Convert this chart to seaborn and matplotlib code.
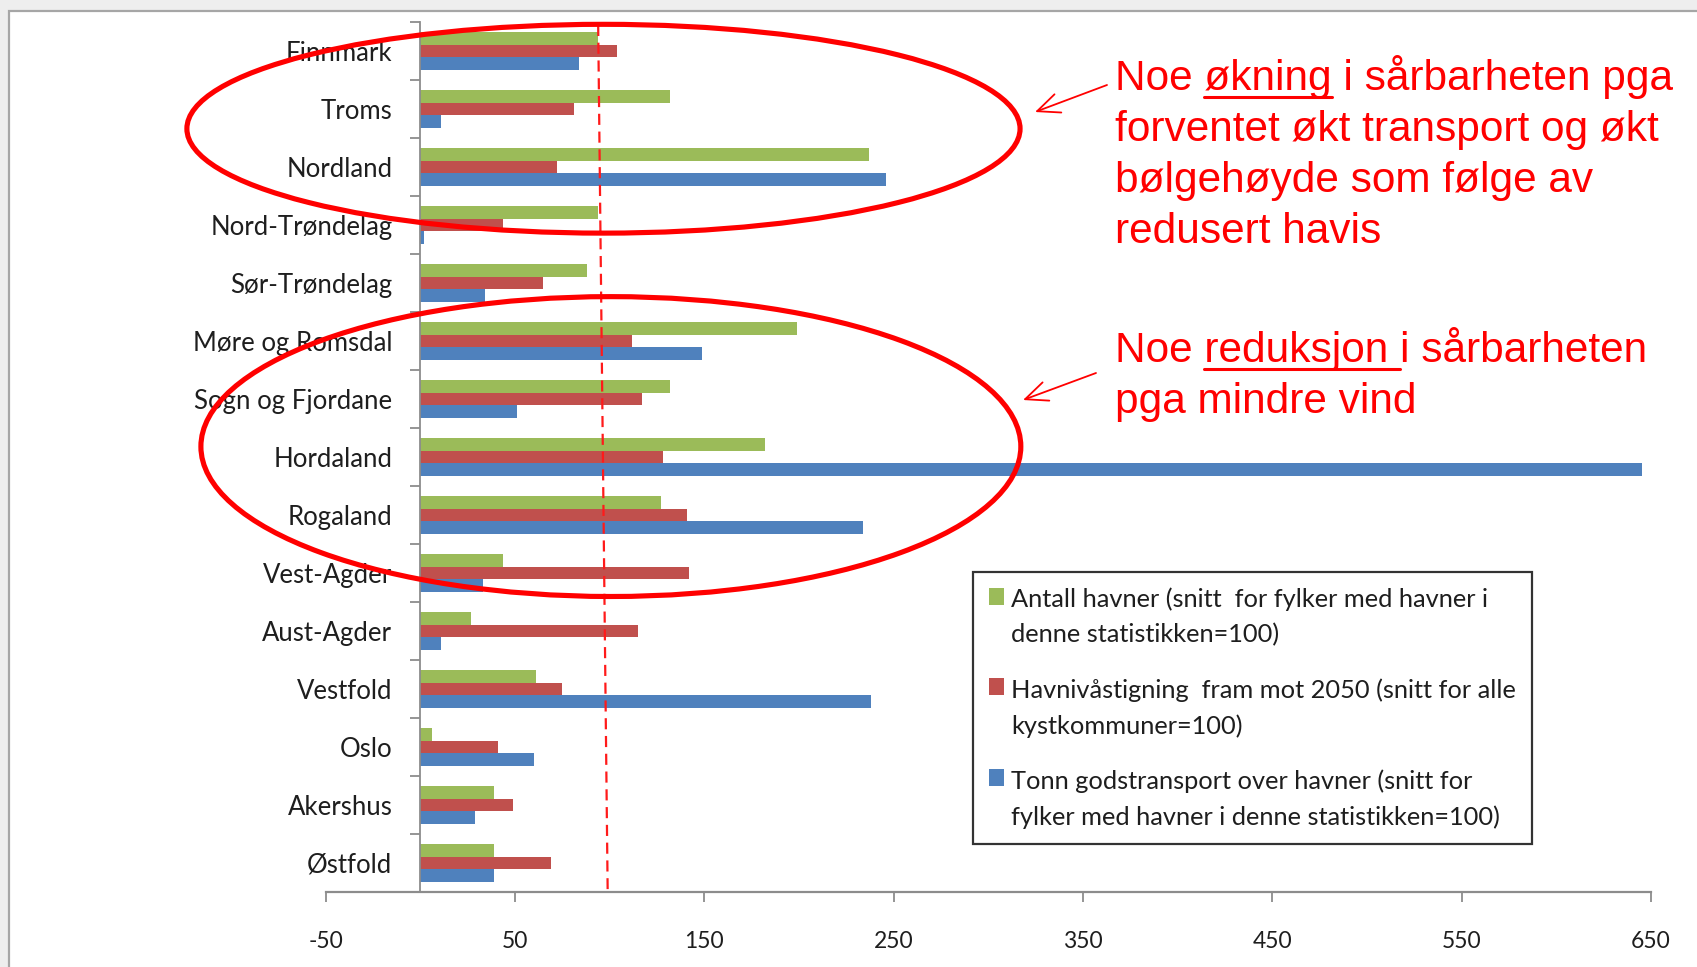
import matplotlib
matplotlib.use("Agg")
import matplotlib.pyplot as plt
import seaborn as sns
import pandas as pd
from matplotlib.patches import Ellipse, Rectangle, FancyArrowPatch
from matplotlib.lines import Line2D
from matplotlib.ticker import FixedLocator

# ---- data -------------------------------------------------------------
fylker = ["Finnmark", "Troms", "Nordland", "Nord-Trøndelag", "Sør-Trøndelag",
          "Møre og Romsdal", "Sogn og Fjordane", "Hordaland", "Rogaland",
          "Vest-Agder", "Aust-Agder", "Vestfold", "Oslo", "Akershus", "Østfold"]

antall_havner = [94, 132, 237, 94, 88, 199, 132, 182, 127, 44, 27, 61, 6, 39, 39]
havnivastigning = [104, 81, 72, 44, 65, 112, 117, 128, 141, 142, 115, 75, 41, 49, 69]
tonn_gods = [84, 11, 246, 2, 34, 149, 51, 645, 234, 33, 11, 238, 60, 29, 39]

serie_navn = [
    "Antall havner (snitt  for fylker med havner i\ndenne statistikken=100)",
    "Havnivåstigning  fram mot 2050 (snitt for alle\nkystkommuner=100)",
    "Tonn godstransport over havner (snitt for\nfylker med havner i denne statistikken=100)",
]
serie_farger = ["#9BBB59", "#C0504D", "#4F81BD"]

x_ticks = [-50, 50, 150, 250, 350, 450, 550, 650]
snitt_linje = [94, 99]          # reference line at index 100 (hand drawn, slightly skewed)

note1_lines = ["Noe økning i sårbarheten pga", "forventet økt transport og økt",
               "bølgehøyde som følge av", "redusert havis"]
note1_under = "økning"
note2_lines = ["Noe reduksjon i sårbarheten", "pga mindre vind"]
note2_under = "reduksjon "

# ---- long-form table ---------------------------------------------------
df = pd.DataFrame({
    "fylke": fylker * 3,
    "verdi": antall_havner + havnivastigning + tonn_gods,
    "serie": [serie_navn[0]] * len(fylker) + [serie_navn[1]] * len(fylker)
             + [serie_navn[2]] * len(fylker),
})

# ---- figure --------------------------------------------------------------
W, H = 1697, 967
sns.set_theme(style="white")
plt.rcParams["font.family"] = ["Lato", "DejaVu Sans"]

fig = plt.figure(figsize=(W / 100, H / 100), dpi=100, facecolor="#EEEEEE")


def px(x, y):
    return x / W, 1 - y / H


# white chart panel with grey frame
panel = Rectangle(px(9, 1100), 2.0, (1100 - 11) / H, transform=fig.transFigure,
                  facecolor="white", edgecolor="#A6A6A6", lw=1.6, zorder=-10)
fig.patches.append(panel)

ax = fig.add_axes([325.5 / W, 1 - 892 / H, (1651 - 325.5) / W, (892 - 22) / H])
ax.set_facecolor("none")

sns.barplot(data=df, y="fylke", x="verdi", hue="serie", order=fylker,
            hue_order=serie_navn, palette=serie_farger, orient="h",
            width=0.65, saturation=1, ax=ax, errorbar=None, linewidth=0)

ax.set_xlim(-50, 650)
ax.set_ylim(len(fylker) - 0.5, -0.5)
ax.set_xticks(x_ticks)
ax.set_xticklabels([str(v) for v in x_ticks])
ax.set_xlabel("")
ax.set_ylabel("")

axis_grey = "#8C8C8C"
text_col = "#1E1E1E"
for s in ("top", "right"):
    ax.spines[s].set_visible(False)
ax.spines["left"].set_position(("data", 0))
ax.spines["left"].set_color(axis_grey)
ax.spines["left"].set_linewidth(1.3)
ax.spines["bottom"].set_color(axis_grey)
ax.spines["bottom"].set_linewidth(1.6)

ax.tick_params(axis="x", direction="out", length=7.2, width=1.3, color=axis_grey,
               pad=21, labelsize=16.5, labelcolor=text_col, bottom=True)
ax.tick_params(axis="y", which="major", length=0, pad=20, labelsize=18.5,
               labelcolor=text_col, left=True)
ax.yaxis.set_minor_locator(FixedLocator([i - 0.5 for i in range(len(fylker) + 1)]))
ax.tick_params(axis="y", which="minor", direction="out", length=7.2, width=1.3,
               color=axis_grey, left=True)

# dashed reference line
ax.plot(snitt_linje, [-0.45, len(fylker) - 0.55], color="#FF1A1A", lw=1.6,
        ls=(0, (5, 3)), zorder=5)

# ellipses around the two groups of counties
for (cx, cy, ew, eh) in [(96.8, 1.34, 440, 3.6), (100.7, 6.82, 433, 5.17)]:
    ax.add_patch(Ellipse((cx, cy), ew, eh, fill=False, edgecolor="#FF0000",
                         lw=3.7, clip_on=False, zorder=6))

# legend
handles, labels = ax.get_legend_handles_labels()
ax.get_legend().remove()
leg = ax.legend(handles, labels, loc="upper left", bbox_to_anchor=(0.4885, 0.368),
                borderaxespad=0, frameon=True, fancybox=False, fontsize=18.3,
                handlelength=0.6, handleheight=0.66, handletextpad=0.28,
                labelspacing=1.25, borderpad=0.62)
leg.get_frame().set_edgecolor("black")
leg.get_frame().set_linewidth(1.6)
for t in leg.get_texts():
    t.set_linespacing(1.62)
    t.set_color(text_col)
# keep each colour key level with the first line of its label
for column in leg._legend_handle_box.get_children():
    for item in column.get_children():
        item.align = "top"

# ---- red notes -----------------------------------------------------------
note_kw = dict(family=["Liberation Sans", "DejaVu Sans"], size=30.5, color="#FF0000")

fig.canvas.draw()
renderer = fig.canvas.get_renderer()


def text_width(s):
    t = fig.text(0, 0, s, **note_kw)
    w = t.get_window_extent(renderer).width
    t.remove()
    return w


def write_note(lines, baselines, x0, word):
    for line, yb in zip(lines, baselines):
        fig.text(*px(x0, yb), line, va="baseline", ha="left", **note_kw)
    first = lines[0]
    i = first.index(word)
    core = word.rstrip()
    xs = x0 + text_width(first[:i] + core) - text_width(core)
    xe = x0 + text_width(first[:i] + core)
    if word != core:
        xe += text_width("a a") - text_width("aa")
    yu = baselines[0] + 6.5
    fig.add_artist(Line2D([xs / W, xe / W], [1 - yu / H, 1 - yu / H],
                          transform=fig.transFigure, color="#FF0000", lw=2.2))


write_note(note1_lines, [90, 141, 192, 243], 1115, note1_under)
write_note(note2_lines, [362, 413], 1115, note2_under)

arrow_kw = dict(arrowstyle="->,head_length=0.8,head_width=0.35", color="#FF0000",
                lw=1.3, mutation_scale=20, shrinkA=0, shrinkB=0)
for (x1, y1, x2, y2) in [(1107, 85, 1035, 112), (1096, 373, 1023, 400)]:
    fig.add_artist(FancyArrowPatch(px(x1, y1), px(x2, y2),
                                   transform=fig.transFigure, **arrow_kw))

fig.savefig("out.png", dpi=100, facecolor=fig.get_facecolor())
